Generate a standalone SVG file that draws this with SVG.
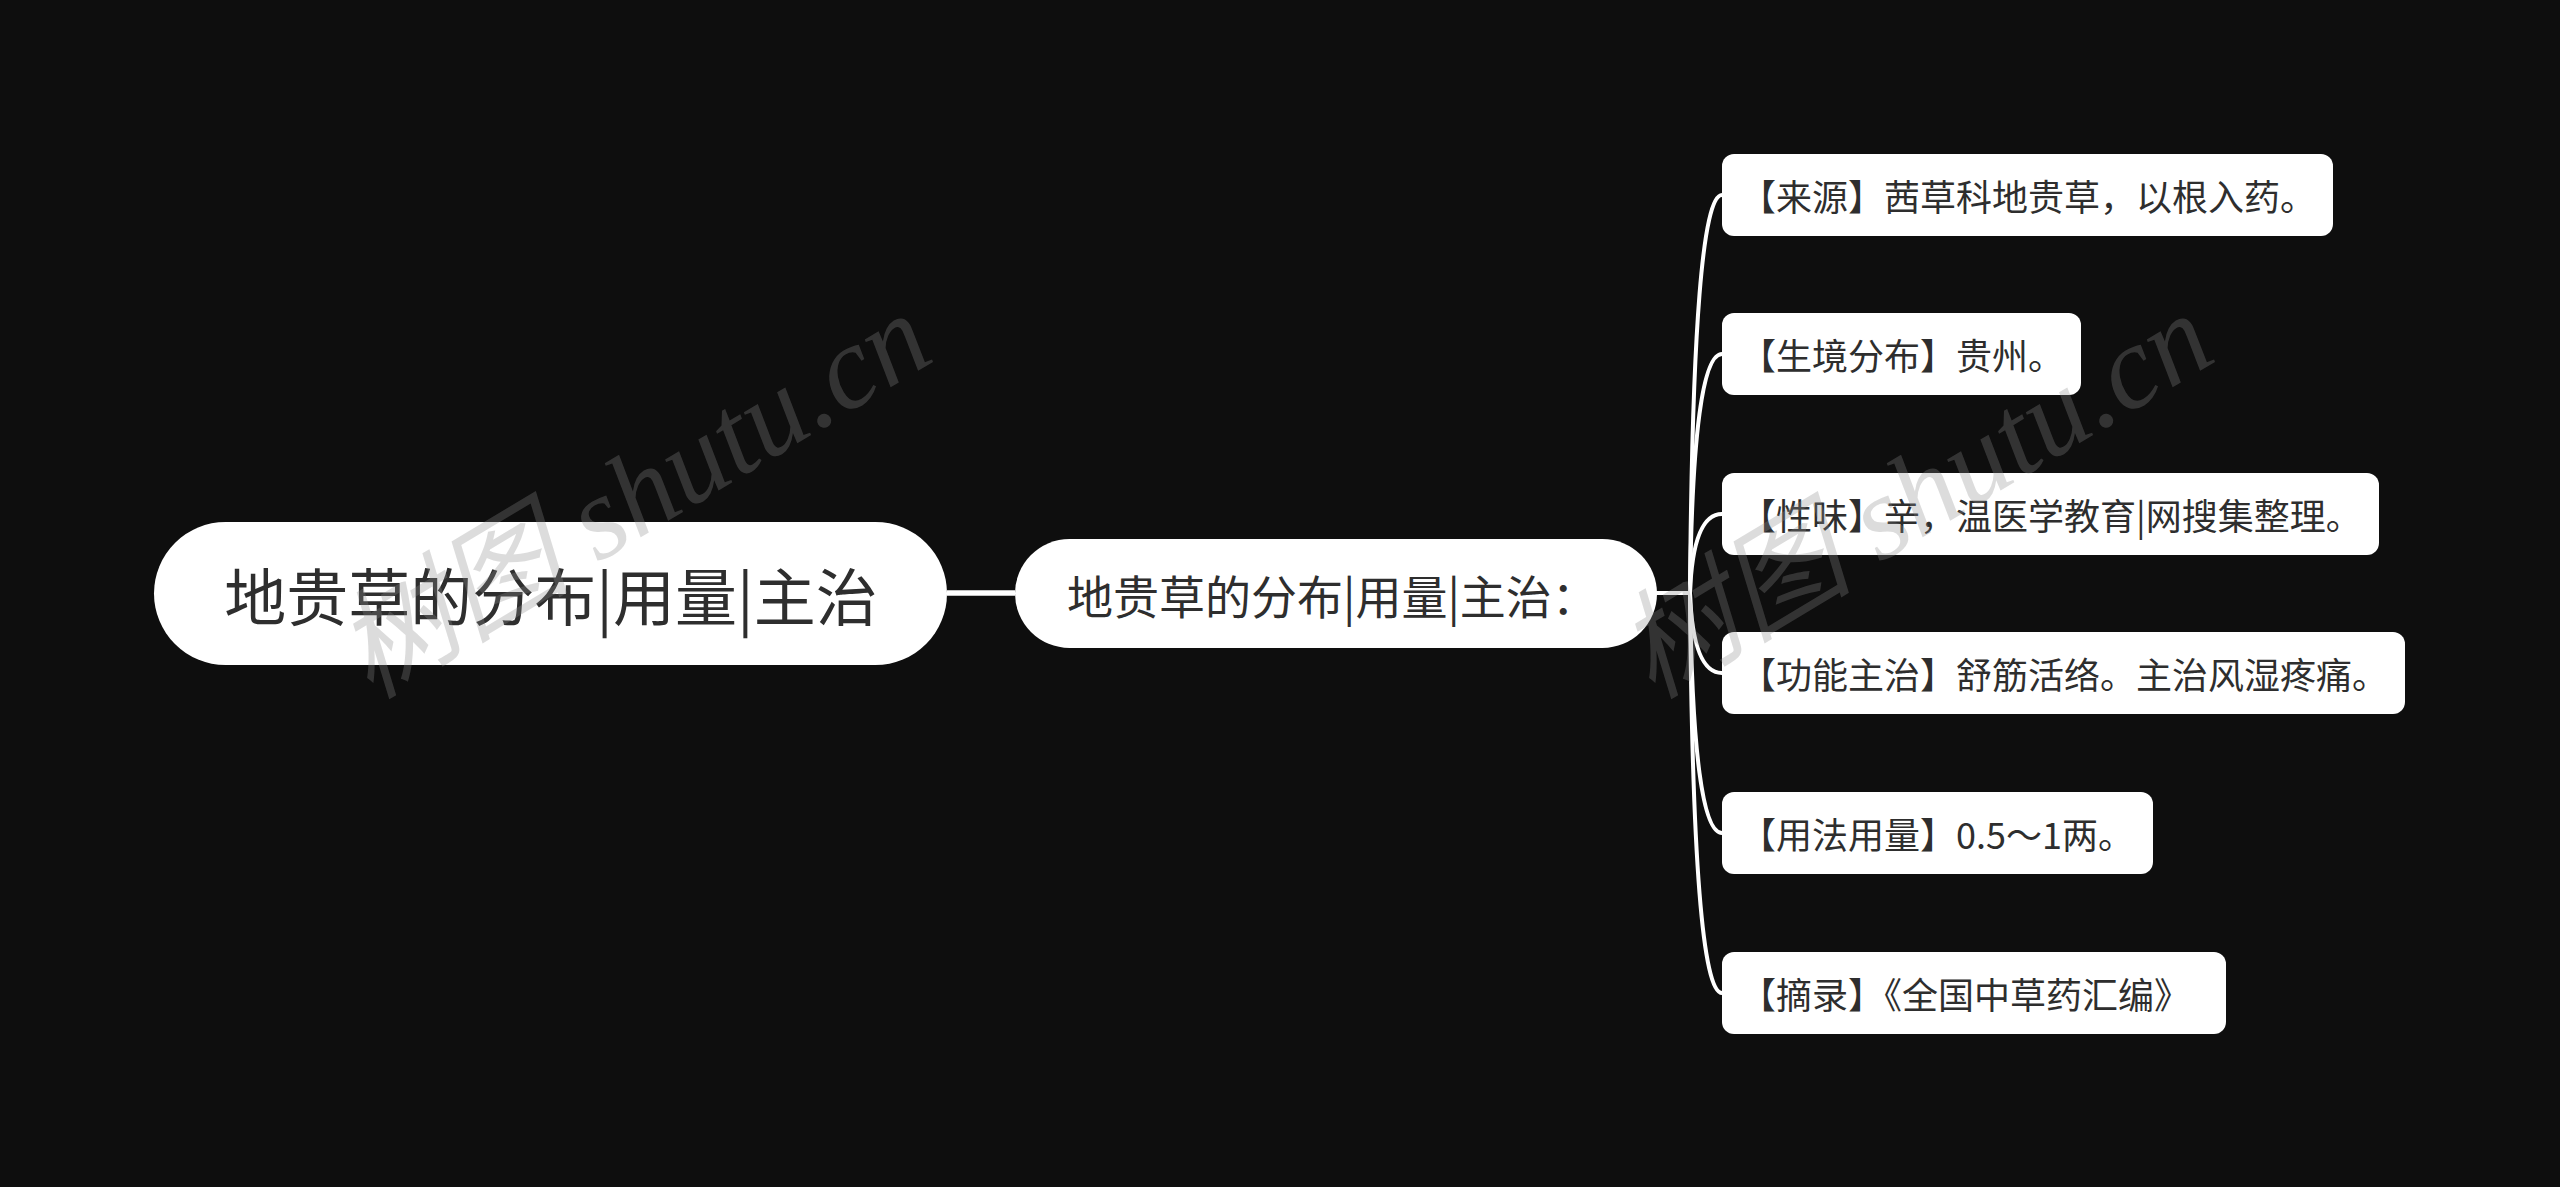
<svg xmlns="http://www.w3.org/2000/svg" width="2560" height="1187" viewBox="0 0 2560 1187">
<style>
.bg{fill:#0e0e0e}
.box{fill:#ffffff}
.t{font-family:"Noto Sans CJK SC","Noto Sans",sans-serif;fill:#2e2e2e;dominant-baseline:central}
.root{font-size:62px}
.mid{font-size:46px}
.leaf{font-size:36px}
.edge{fill:none;stroke:#ffffff;stroke-width:4;stroke-linecap:round}
.thick{stroke-width:5.5;stroke-linecap:butt}
.wm{font-family:"Liberation Serif","Noto Sans CJK SC",serif;font-style:italic;font-size:118px;fill:#8a8a8a;fill-opacity:0.3}
</style>
<rect class="bg" x="0" y="0" width="2560" height="1187"/>
<g id="connectors">
<path class="edge thick" d="M947 593 L1015 593"/>
<path class="edge" d="M1657 593 L1690 593"/>
<path class="edge" d="M1690 593 Q1693 195 1722 195"/>
<path class="edge" d="M1690 593 Q1693 354 1722 354"/>
<path class="edge" d="M1690 593 Q1693 514 1722 514"/>
<path class="edge" d="M1690 593 Q1693 673 1722 673"/>
<path class="edge" d="M1690 593 Q1693 833 1722 833"/>
<path class="edge" d="M1690 593 Q1693 993 1722 993"/>
</g>
<g id="root">
<rect class="box" x="154" y="522" width="793" height="143" rx="71.5"/>
<text class="t root" x="551" y="593.5" text-anchor="middle">地贵草的分布|用量|主治</text>
</g>
<g id="main">
<rect class="box" x="1015" y="539" width="642" height="109" rx="54.5"/>
<text class="t mid" x="1067" y="593.5">地贵草的分布|用量|主治：</text>
</g>
<g id="leaf1">
<rect class="box" x="1722" y="154" width="611" height="82" rx="12"/>
<text class="t leaf" x="1740" y="195">【来源】茜草科地贵草，以根入药。</text>
</g>
<g id="leaf2">
<rect class="box" x="1722" y="313" width="359" height="82" rx="12"/>
<text class="t leaf" x="1740" y="354">【生境分布】贵州。</text>
</g>
<g id="leaf3">
<rect class="box" x="1722" y="473" width="657" height="82" rx="12"/>
<text class="t leaf" x="1740" y="514">【性味】辛，温医学教育|网搜集整理。</text>
</g>
<g id="leaf4">
<rect class="box" x="1722" y="632" width="683" height="82" rx="12"/>
<text class="t leaf" x="1740" y="673">【功能主治】舒筋活络。主治风湿疼痛。</text>
</g>
<g id="leaf5">
<rect class="box" x="1722" y="792" width="431" height="82" rx="12"/>
<text class="t leaf" x="1740" y="833">【用法用量】0.5～1两。</text>
</g>
<g id="leaf6">
<rect class="box" x="1722" y="952" width="504" height="82" rx="12"/>
<text class="t leaf" x="1740" y="993">【摘录】《全国中草药汇编》</text>
</g>
<g id="watermark">
<text class="wm" x="370" y="700" transform="rotate(-31 370 700)">树图 shutu.cn</text>
<text class="wm" x="1652" y="700" transform="rotate(-31 1652 700)">树图 shutu.cn</text>
</g>
</svg>
